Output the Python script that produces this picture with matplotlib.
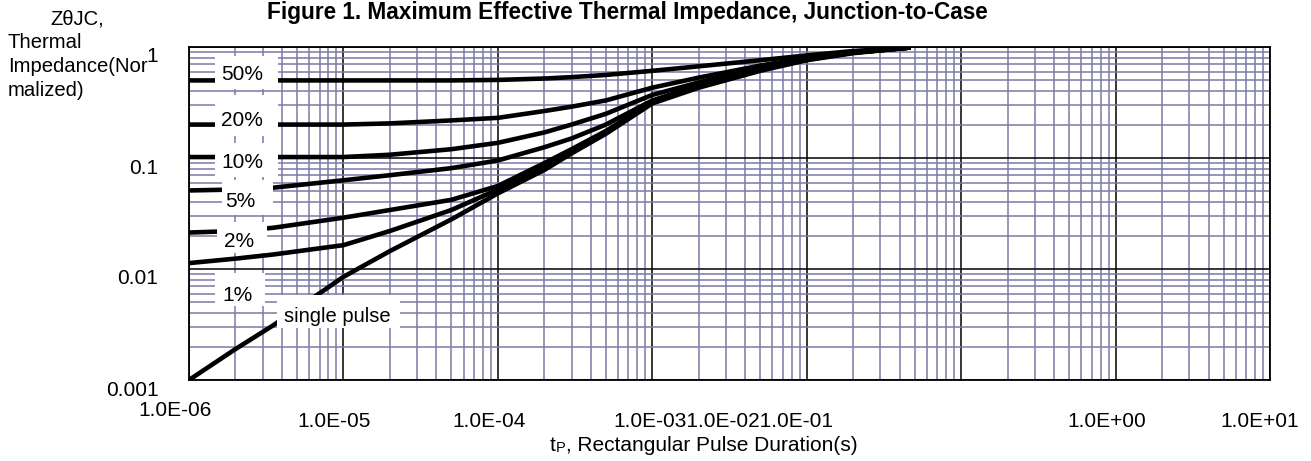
import matplotlib
matplotlib.use("Agg")
import matplotlib.pyplot as plt
from matplotlib.patches import Rectangle
from matplotlib.ticker import LogLocator, NullFormatter
import matplotlib.transforms as mtransforms

plt.rcParams['font.family'] = ['Liberation Sans', 'DejaVu Sans']

# pulse duration (s)
t = [1e-6, 2e-6, 3.5e-6, 1e-5, 2e-5, 5e-5, 1e-4, 2e-4, 3e-4, 5e-4,
     1e-3, 2e-3, 5e-3, 1e-2, 2e-2, 4.7e-2]

# normalized thermal impedance per duty cycle
z_50 = [0.5, 0.5, 0.5, 0.5, 0.5, 0.5, 0.505, 0.52, 0.535, 0.56, 0.61, 0.67, 0.76, 0.84, 0.92, 0.99]
z_20 = [0.2, 0.2, 0.2, 0.2, 0.205, 0.218, 0.23, 0.265, 0.29, 0.33, 0.43, 0.53, 0.68, 0.80, 0.90, 0.99]
z_10 = [0.102, 0.102, 0.102, 0.102, 0.107, 0.12, 0.137, 0.17, 0.2, 0.25, 0.37, 0.48, 0.65, 0.78, 0.89, 0.99]
z_5 = [0.051, 0.052, 0.054, 0.063, 0.07, 0.081, 0.095, 0.125, 0.15, 0.2, 0.33, 0.45, 0.63, 0.78, 0.89, 0.99]
z_2 = [0.0213, 0.022, 0.0235, 0.029, 0.034, 0.042, 0.056, 0.09, 0.12, 0.175, 0.32, 0.44, 0.62, 0.77, 0.89, 0.99]
z_1 = [0.0113, 0.0124, 0.0135, 0.0164, 0.022, 0.034, 0.052, 0.083, 0.115, 0.17, 0.315, 0.44, 0.62, 0.77, 0.89, 0.99]
z_single = [0.001, 0.0019, 0.0031, 0.0085, 0.0145, 0.028, 0.048, 0.078, 0.11, 0.165, 0.31, 0.43, 0.61, 0.76, 0.88, 0.99]

curves = [z_50, z_20, z_10, z_5, z_2, z_1, z_single]
labels = ["50%", "20%", "10%", "5%", "2%", "1%", "single pulse"]

x_tick_text = ["1.0E-06", "1.0E-05", "1.0E-04", "1.0E-031.0E-021.0E-01", "1.0E+00", "1.0E+01"]
y_ticks = [1e-3, 1e-2, 1e-1, 1]
y_tick_text = ["0.001", "0.01", "0.1", "1"]

W, H = 1311, 461
L, R, T, B = 189, 1270, 47, 380


def fig_xy(x, y):
    return x / W, 1 - y / H


def ax_xy(x, y):
    return (x - L) / (R - L), (B - y) / (B - T)


fig = plt.figure(figsize=(W / 100, H / 100), dpi=100)
ax = fig.add_axes([L / W, 1 - B / H, (R - L) / W, (B - T) / H])
ax.set_xscale("log")
ax.set_yscale("log")
ax.set_xlim(1e-6, 1e1)
ax.set_ylim(1e-3, 1)

ax.xaxis.set_minor_locator(LogLocator(base=10, subs=range(2, 10), numticks=50))
ax.yaxis.set_minor_locator(LogLocator(base=10, subs=range(2, 10), numticks=50))
ax.xaxis.set_minor_formatter(NullFormatter())
ax.yaxis.set_minor_formatter(NullFormatter())
ax.grid(which="minor", color="#7b79a6", lw=1.1)
ax.grid(which="major", color="black", lw=1.1)
ax.set_axisbelow(True)
ax.tick_params(which="both", length=0)
for s in ax.spines.values():
    s.set_color("black")
    s.set_linewidth(1.3)

# curves
for z in curves:
    ax.plot(t, z, color="black", lw=3.3, solid_capstyle="butt", zorder=2)

# y tick labels, nudged down like the original
ax.set_yticks(y_ticks)
ax.set_yticklabels(y_tick_text, fontsize=15)
ax.tick_params(axis="y", pad=22)
off = mtransforms.ScaledTranslation(0, -8 / 100, fig.dpi_scale_trans)
for lab in ax.get_yticklabels():
    lab.set_transform(lab.get_transform() + off)
ax.set_xticklabels([])

# label boxes that mask the curves
boxes = [(215, 56, 278, 89), (215, 95, 278, 136), (215, 143, 278, 177),
         (222, 180, 273, 215), (217, 222, 267, 253), (215, 273, 265, 306),
         (277, 295, 400, 328)]
text_pos = [(242, 75), (242, 121), (242, 162), (240, 201), (239, 241), (237, 295), (337, 316)]
for (x0, y0, x1, y1), (tx, ty), lab in zip(boxes, text_pos, labels):
    a0 = ax_xy(x0, y1)
    a1 = ax_xy(x1, y0)
    ax.add_patch(Rectangle(a0, a1[0] - a0[0], a1[1] - a0[1], transform=ax.transAxes,
                           facecolor="white", edgecolor="none", zorder=3))
    ax.text(*ax_xy(tx, ty), lab, transform=ax.transAxes, fontsize=15 if len(lab) < 5 else 14.5,
            ha="center", va="center", zorder=4)

# x tick labels as in the original (crammed middle one)
x_tick_px = [(175, 410), (334, 421), (489, 421), (723, 421), (1107, 421), (1260, 421)]
for (px, py), lab in zip(x_tick_px, x_tick_text):
    fig.text(*fig_xy(px, py), lab, fontsize=15, ha="center", va="center")

# x axis title with small P
t1 = fig.text(*fig_xy(550, 455), "t", fontsize=15, ha="left", va="bottom")
t2 = ax.annotate("P", xy=(1, 0), xycoords=t1, fontsize=10.5, ha="left", va="bottom")
ax.annotate(", Rectangular Pulse Duration(s)", xy=(1, 0), xycoords=t2, fontsize=15,
            ha="left", va="bottom")

# y axis title
fig.text(*fig_xy(50, 19), "Z\u03b8JC,", fontsize=14.6, ha="left", va="center")
fig.text(*fig_xy(8, 43), "Thermal", fontsize=14.6, ha="left", va="center")
fig.text(*fig_xy(8, 66), "Impedance(Nor", fontsize=14.6, ha="left", va="center")
fig.text(*fig_xy(8, 90), "malized)", fontsize=14.6, ha="left", va="center")

fig.text(*fig_xy(627, 12), "Figure 1. Maximum Effective Thermal Impedance, Junction-to-Case",
         fontsize=16.3, fontweight="bold", ha="center", va="center")

fig.savefig("out.png", dpi=100, facecolor="white")
